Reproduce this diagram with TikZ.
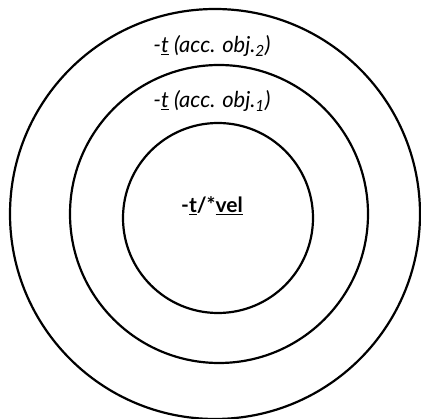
\documentclass[tikz,border=0pt]{standalone}
\usepackage{fontspec}
\setmainfont{Lato}
\begin{document}
\begin{tikzpicture}[x=1pt,y=-1pt,
  ring/.style={draw=black,line width=2.2pt,circle,inner sep=0pt},
  lab/.style={font=\fontsize{22}{24}\selectfont\itshape,inner sep=0pt}]
\useasboundingbox (0,0) rectangle (421,419);
\node[ring,minimum size=410pt] (outer) at (215,214) {};
\node[ring,minimum size=298pt] (middle) at (219,214) {};
\node[ring,minimum size=190pt] (inner) at (218,218) {};
\node[lab] (l2) at (212,46) {-\underline{t} (acc. obj.\textsubscript{2})};
\node[lab] (l1) at (212,101) {-\underline{t} (acc. obj.\textsubscript{1})};
\node[font=\fontsize{21}{23}\selectfont\bfseries,inner sep=0pt] (l0) at (212,206) {-\underline{t}/*\underline{vel}};
\end{tikzpicture}
\end{document}
